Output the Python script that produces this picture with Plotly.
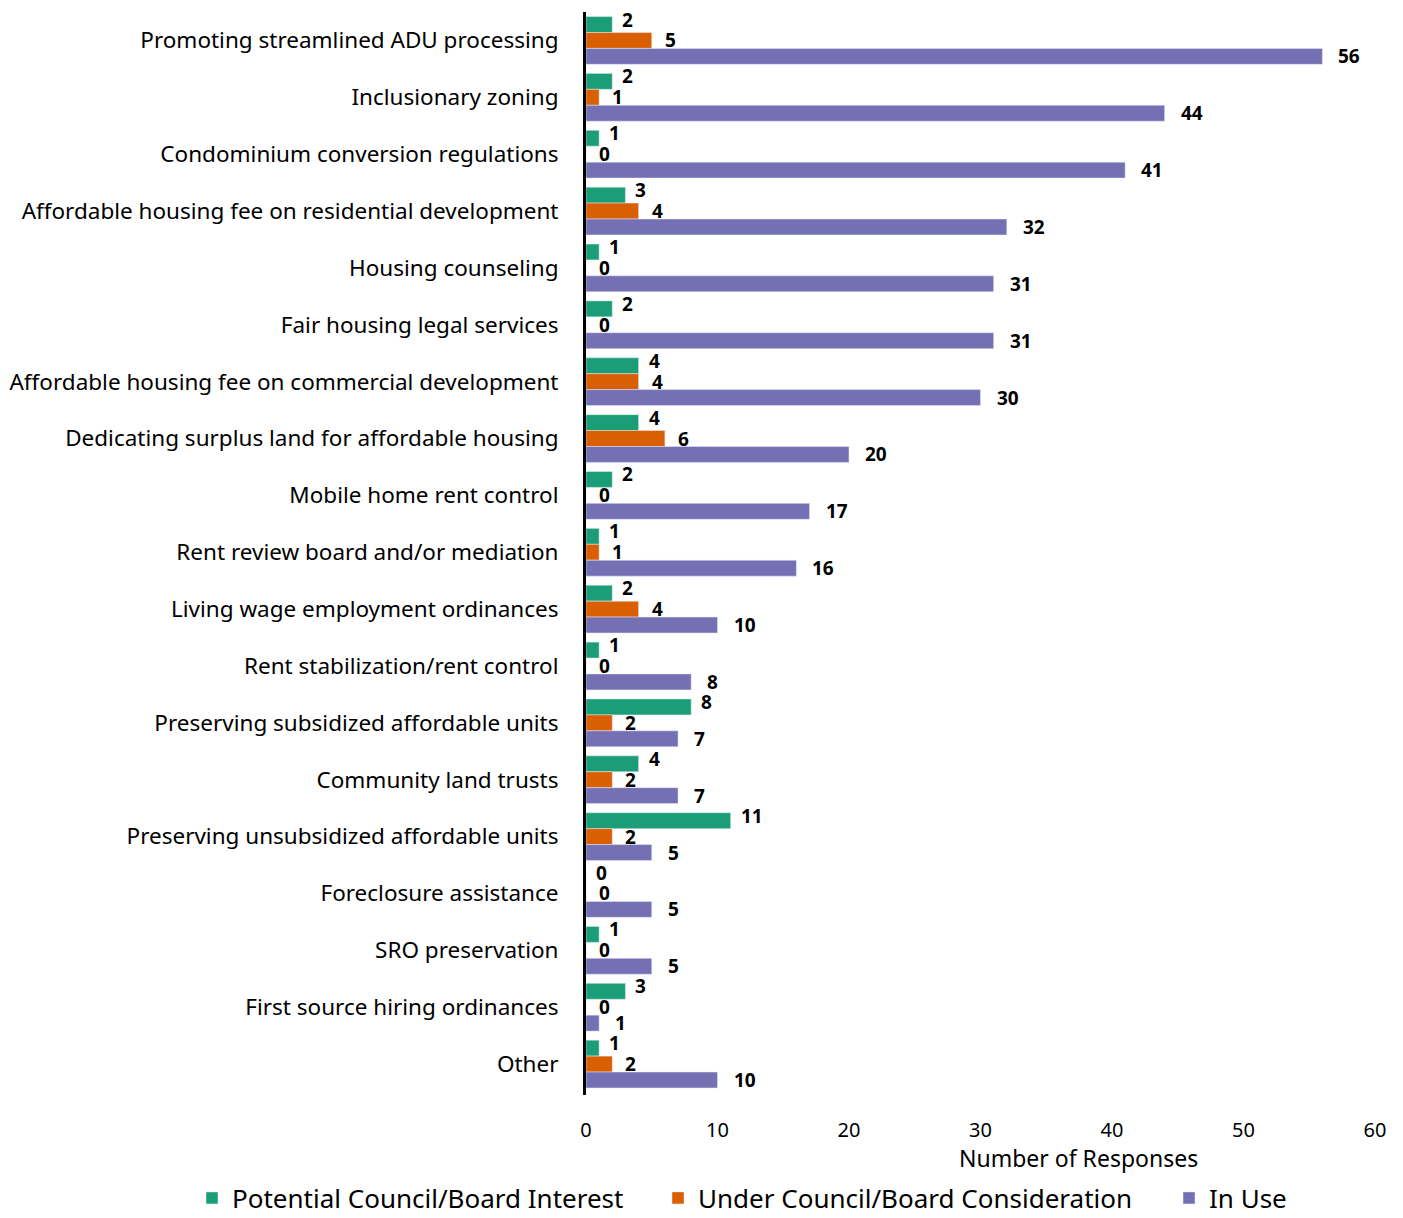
import plotly.graph_objects as go

# Survey responses per policy
categories = [
    'Promoting streamlined ADU processing',
    'Inclusionary zoning',
    'Condominium conversion regulations',
    'Affordable housing fee on residential development',
    'Housing counseling',
    'Fair housing legal services',
    'Affordable housing fee on commercial development',
    'Dedicating surplus land for affordable housing',
    'Mobile home rent control',
    'Rent review board and/or mediation',
    'Living wage employment ordinances',
    'Rent stabilization/rent control',
    'Preserving subsidized affordable units',
    'Community land trusts',
    'Preserving unsubsidized affordable units',
    'Foreclosure assistance',
    'SRO preservation',
    'First source hiring ordinances',
    'Other',
]
potential_interest = [2, 2, 1, 3, 1, 2, 4, 4, 2, 1, 2, 1, 8, 4, 11, 0, 1, 3, 1]
under_consideration = [5, 1, 0, 4, 0, 0, 4, 6, 0, 1, 4, 0, 2, 2, 2, 0, 0, 0, 2]
in_use = [56, 44, 41, 32, 31, 31, 30, 20, 17, 16, 10, 8, 7, 7, 5, 5, 5, 1, 10]

series = [
    ('Potential Council/Board Interest', potential_interest, '#1b9e77'),
    ('Under Council/Board Consideration', under_consideration, '#d95f02'),
    ('In Use', in_use, '#7570b3'),
]

# page body has an 8px margin, so the figure is a bit smaller than the window
W, H = 1395, 1210
ml, mr, mt, mb = 578, 28, 4, 123
plot_w = W - ml - mr
plot_h = H - mt - mb

bargap = 0.16
legend_names = ['legend', 'legend2', 'legend3']
legend_left = [184, 650, 1161]  # px from page left

fig = go.Figure()
annotations = []
for k, (name, vals, color) in enumerate(series):
    fig.add_trace(go.Bar(
        y=categories, x=vals, name=name, orientation='h',
        marker_color=color, legend=legend_names[k], showlegend=True,
    ))
    # data labels next to each bar (green ones sit a bit higher, like Excel)
    offset = (k - 1) * (1 - bargap) / 3
    for i, v in enumerate(vals):
        annotations.append(dict(
            x=v, y=i + offset, xref='x', yref='y', text=f'<b>{v}</b>',
            showarrow=False, xanchor='left', xshift=8 + 3 * k,
            yshift=5 if k == 0 else 0,
            font=dict(size=19, color='black'),
        ))

annotations.append(dict(
    x=(1078 - 8 - ml) / plot_w, y=-(1158 - 8 - (H - mb)) / plot_h,
    xref='paper', yref='paper', text='Number of Responses',
    showarrow=False, xanchor='center', yanchor='middle',
    font=dict(size=23, color='black'),
))

legends = {}
for k, lname in enumerate(legend_names):
    legends[lname] = dict(
        orientation='h', xref='paper', yref='paper',
        x=(legend_left[k] - ml) / plot_w, y=-(1190 - (H - mb)) / plot_h,
        xanchor='left', yanchor='middle', font=dict(size=26),
    )

fig.update_layout(
    barmode='group',
    bargap=bargap,
    bargroupgap=0,
    width=W, height=H,
    margin=dict(l=ml, r=mr, t=mt, b=mb, autoexpand=False),
    paper_bgcolor='white',
    plot_bgcolor='white',
    font=dict(family='Noto Sans', color='black'),
    showlegend=True,
    annotations=annotations,
    xaxis=dict(
        range=[0, 60], dtick=10, showgrid=False, zeroline=False,
        showline=False, tickfont=dict(size=20), ticks='',
        ticklabelstandoff=21, automargin=False,
    ),
    yaxis=dict(
        autorange='reversed', showgrid=False, showline=True,
        linecolor='black', linewidth=3, ticks='', ticklabelstandoff=20,
        tickfont=dict(size=22.5), automargin=False,
    ),
    **legends,
)

fig.write_html('out.html')
